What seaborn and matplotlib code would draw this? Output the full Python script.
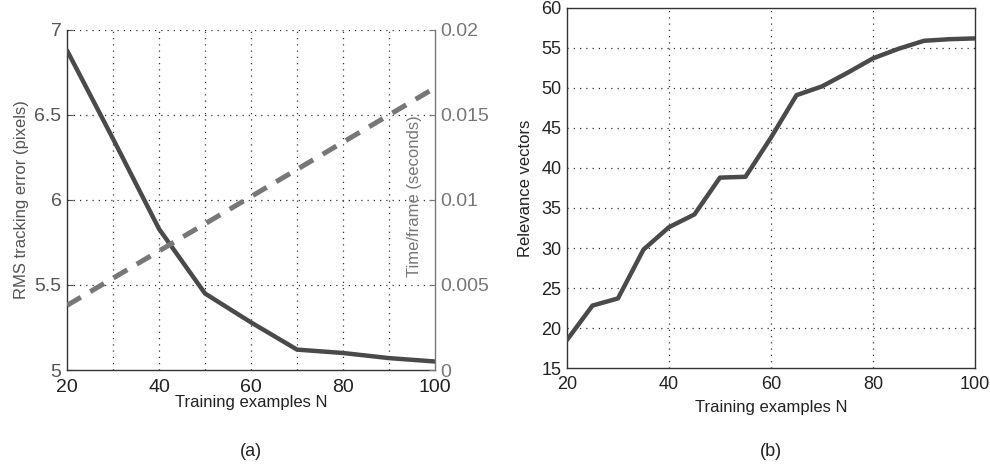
import matplotlib
matplotlib.use("Agg")
import matplotlib.pyplot as plt
import seaborn as sns
import pandas as pd

# ---- data ----
n_a = [20, 30, 40, 50, 60, 70, 80, 90, 100]
rms_error = [6.88, 6.36, 5.83, 5.45, 5.28, 5.12, 5.10, 5.07, 5.05]
n_time = [20, 40, 60, 80, 100]
time_per_frame = [0.0038, 0.0070, 0.0102, 0.0134, 0.0166]
n_b = [20, 25, 30, 35, 40, 45, 50, 55, 60, 65, 70, 75, 80, 85, 90, 95, 100]
relevance = [18.5, 22.8, 23.7, 29.8, 32.6, 34.2, 38.8, 38.9, 43.8, 49.1,
             50.2, 51.9, 53.7, 54.9, 55.9, 56.1, 56.2]

x_ticks = [20, 40, 60, 80, 100]
a_yticks = [5, 5.5, 6, 6.5, 7]
a_yticklabels = ["5", "5.5", "6", "6.5", "7"]
a_y2ticks = [0, 0.005, 0.01, 0.015, 0.02]
a_y2ticklabels = ["0", "0.005", "0.01", "0.015", "0.02"]
b_yticks = [15, 20, 25, 30, 35, 40, 45, 50, 55, 60]

sns.set_style("white")
plt.rcParams["font.family"] = ["Liberation Sans", "DejaVu Sans"]
FS = 12
TFA = 14
TFB = 13

fig = plt.figure(figsize=(9.9, 4.65), dpi=100)
ax = fig.add_axes([0.0677, 0.2043, 0.3717, 0.7312])
axb = fig.add_axes([0.5727, 0.2086, 0.4121, 0.7742])

dark = "#4a4a4a"
grey = "#777777"
gridkw = dict(color="#333333", linestyle=(0, (1, 4)), linewidth=0.9)

# ---- panel (a) ----
df_a = pd.DataFrame({"N": n_a, "err": rms_error})
sns.lineplot(data=df_a, x="N", y="err", ax=ax, color=dark, linewidth=3.2, zorder=3)
ax.set_xlim(20, 100)
ax.set_ylim(5, 7)
ax.set_xticks(x_ticks)
ax.set_yticks(a_yticks)
ax.set_yticklabels(a_yticklabels)
for xv in [30, 40, 50, 60, 70, 80, 90]:
    ax.axvline(xv, **gridkw, zorder=1)
for yv in [5.5, 6, 6.5, 7]:
    ax.axhline(yv, **gridkw, zorder=1)
ax.tick_params(axis="x", direction="in", length=4, labelsize=TFA, colors="#222222", pad=6.5)
ax.tick_params(axis="y", direction="in", length=4, labelsize=TFA, colors="#555555", pad=4)
ax.set_xlabel("Training examples N", fontsize=FS, color="#222222", labelpad=-1)
ax.set_ylabel("RMS tracking error (pixels)", fontsize=FS, color="#555555", labelpad=4)
for s in ["top", "right"]:
    ax.spines[s].set_visible(False)
for s in ["left", "bottom"]:
    ax.spines[s].set_color("#333333")
    ax.spines[s].set_linewidth(1.0)

ax2 = ax.twinx()
df_t = pd.DataFrame({"N": n_time, "t": time_per_frame})
sns.lineplot(data=df_t, x="N", y="t", ax=ax2, color=grey, linewidth=3.6,
             linestyle=(0, (3.2, 2.2)), zorder=3)
ax2.set_xlim(20, 100)
ax2.set_ylim(0, 0.02)
ax2.set_yticks(a_y2ticks)
ax2.set_yticklabels(a_y2ticklabels)
ax2.tick_params(axis="y", direction="in", length=4, labelsize=TFA, colors=grey, pad=4)
ax2.set_ylabel("Time/frame (seconds)", fontsize=FS, color=grey)
ax2.yaxis.set_label_coords(0.925, 0.51)
for s in ["top", "left", "bottom"]:
    ax2.spines[s].set_visible(False)
ax2.spines["right"].set_color(grey)
ax2.spines["right"].set_linewidth(1.0)
ax2.set_xlabel("")

# ---- panel (b) ----
df_b = pd.DataFrame({"N": n_b, "rv": relevance})
sns.lineplot(data=df_b, x="N", y="rv", ax=axb, color=dark, linewidth=3.2, zorder=3)
axb.set_xlim(20, 100)
axb.set_ylim(15, 60)
axb.set_xticks(x_ticks)
axb.set_yticks(b_yticks)
for xv in [40, 60, 80]:
    axb.axvline(xv, **gridkw, zorder=1)
for yv in [20, 25, 30, 35, 40, 45, 50, 55]:
    axb.axhline(yv, **gridkw, zorder=1)
axb.tick_params(axis="both", direction="in", length=4, labelsize=TFB, colors="#222222", pad=4)
axb.tick_params(axis="x", pad=6)
axb.set_xlabel("Training examples N", fontsize=FS, color="#222222", labelpad=5)
axb.set_ylabel("Relevance vectors", fontsize=FS, color="#222222", labelpad=6)
for s in axb.spines.values():
    s.set_color("#333333")
    s.set_linewidth(1.0)

fig.text(0.2535, 0.030, "(a)", ha="center", va="center", fontsize=FS + 1, color="#222222")
fig.text(0.7787, 0.030, "(b)", ha="center", va="center", fontsize=FS + 1, color="#222222")

fig.savefig("out.png", dpi=100)
